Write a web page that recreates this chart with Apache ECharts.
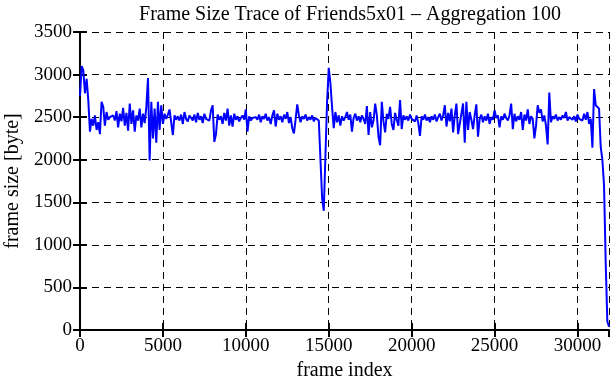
<!DOCTYPE html>
<html><head><meta charset="utf-8">
<script src="https://cdn.jsdelivr.net/npm/echarts@6/dist/echarts.min.js"></script>
<style>html,body{margin:0;padding:0;background:#fff}#c{width:611px;height:380px}</style>
</head><body><div id="c"></div>
<script>
const title = "Frame Size Trace of Friends5x01 \u2013 Aggregation 100";
const xName = "frame index";
const yName = "frame size [byte]";
const aggregation = 100;
const xTicks = [0, 5000, 10000, 15000, 20000, 25000, 30000];
const yTicks = [0, 500, 1000, 1500, 2000, 2500, 3000, 3500];
const frameSizes1 = [2750,3100,3050,2780,2950,2700,2330,2480,2400,2520,2350,2440,2300,2680,2620,2400,2560,2470,2500,2490,2520,2460,2570,2380,2540,2450,2610,2400,2550,2340,2660,2420,2580,2330,2520,2460,2600,2380,2540,2430,2620,2960,1990,2680,2250,2600,2200,2680,2350,2640,2420,2540,2480,2530];
const frameSizes2 = [2590,2440,2290,2520,2470,2510,2460,2530,2420,2560,2480,2450,2520,2490,2460,2530,2440,2550,2470,2510,2430,2540,2480,2500,2460,2580,2640,2210,2300,2530,2470,2510,2420,2550,2460,2600,2400,2520,2390,2540,2470,2510,2450,2490,2520,2470,2590,2330,2510,2460,2490,2470,2500];
const frameSizes3 = [2470,2530,2440,2510,2480,2540,2460,2500,2420,2520,2580,2390,2540,2470,2510,2440,2530,2480,2560,2430,2500,2370,2310,2470,2650,2520,2440,2510,2480,2530,2460,2500,2470,2520,2450,2490,2510,2460,2450,1550,1400,2050,2680,3080,2900,2620,2370,2560,2440,2520,2400,2510,2460];
const frameSizes4 = [2500,2560,2470,2530,2330,2490,2540,2460,2510,2440,2520,2480,2420,2630,2290,2560,2380,2460,2660,2520,2270,2170,2680,2450,2320,2540,2480,2620,2420,2350,2550,2470,2400,2700,2360,2520,2470,2510,2460,2530,2480,2500,2450,2520,2430,2280,2510,2470,2530,2460,2500,2440,2510];
const frameSizes5 = [2470,2530,2450,2500,2540,2460,2520,2640,2390,2550,2450,2600,2320,2520,2660,2300,2280,2540,2660,2200,2680,2350,2560,2470,2360,2520,2650,2270,2480,2530,2440,2510,2460,2540,2420,2500,2470,2580,2490,2520,2380,2510,2470,2540,2490,2460,2520,2660,2360,2540,2450,2510,2470];
const frameSizes6 = [2560,2350,2530,2460,2590,2420,2510,2480,2250,2400,2640,2550,2590,2450,2520,2400,2180,2790,2440,2510,2480,2530,2460,2500,2470,2520,2490,2560,2460,2500,2480,2470,2510,2450,2530,2480,2500,2460,2540,2470,2560,2420,2480,2140,2830,2640,2620,2600,2150,2000,1700,800,100,40];
const frameSizes = [].concat(frameSizes1, frameSizes2, frameSizes3, frameSizes4, frameSizes5, frameSizes6);
const points = frameSizes.map((v, i) => [i * aggregation, v]);

const font = "Liberation Serif";
const chart = echarts.init(document.getElementById('c'), null, {renderer: 'canvas'});
const dash = {color: '#000', width: 1, type: [7, 5]};
const plain = v => String(v);
chart.setOption({
  animation: false,
  title: {text: title, left: 345, top: 0, textAlign: 'center',
    textStyle: {fontFamily: font, fontSize: 20, fontWeight: 'normal', color: '#000'}},
  grid: {left: 80, right: 2, top: 32, bottom: 50, containLabel: false, outerBoundsMode: 'none'},
  xAxis: [{
    type: 'value', min: 0, max: 31900, interval: 5000,
    name: xName, nameLocation: 'middle', nameGap: 25,
    nameTextStyle: {fontFamily: font, fontSize: 20, color: '#000'},
    axisLine: {onZero: false, lineStyle: {color: '#000', width: 2}},
    axisTick: {inside: true, length: 7, lineStyle: {color: '#000', width: 2}},
    axisLabel: {fontFamily: font, fontSize: 19, color: '#000', margin: 7, showMaxLabel: false, formatter: plain},
    splitLine: {show: true, lineStyle: dash}
  }, {
    type: 'value', position: 'top', min: 0, max: 31900, interval: 5000,
    axisLine: {lineStyle: {color: '#000', width: 2}},
    axisTick: {inside: true, length: 7, lineStyle: {color: '#000', width: 2}},
    axisLabel: {show: false}, splitLine: {show: false}
  }],
  yAxis: [{
    type: 'value', min: 0, max: 3500, interval: 500,
    name: yName, nameLocation: 'middle', nameGap: 57, nameRotate: 90,
    nameTextStyle: {fontFamily: font, fontSize: 20, color: '#000'},
    axisLine: {show: true, lineStyle: {color: '#000', width: 2}},
    axisTick: {show: true, inside: true, length: 7, lineStyle: {color: '#000', width: 2}},
    axisLabel: {fontFamily: font, fontSize: 19, color: '#000', margin: 8, formatter: plain},
    splitLine: {show: true, lineStyle: dash}
  }, {
    type: 'value', position: 'right', min: 0, max: 3500, interval: 500,
    axisLine: {show: true, lineStyle: {color: '#000', width: 2}},
    axisTick: {show: true, inside: true, length: 7, lineStyle: {color: '#000', width: 2}},
    axisLabel: {show: false}, splitLine: {show: false}
  }],
  series: [{
    type: 'line', data: points, showSymbol: false, symbol: 'none',
    lineStyle: {color: '#0000ff', width: 2}, z: 3
  }]
});
</script></body></html>
